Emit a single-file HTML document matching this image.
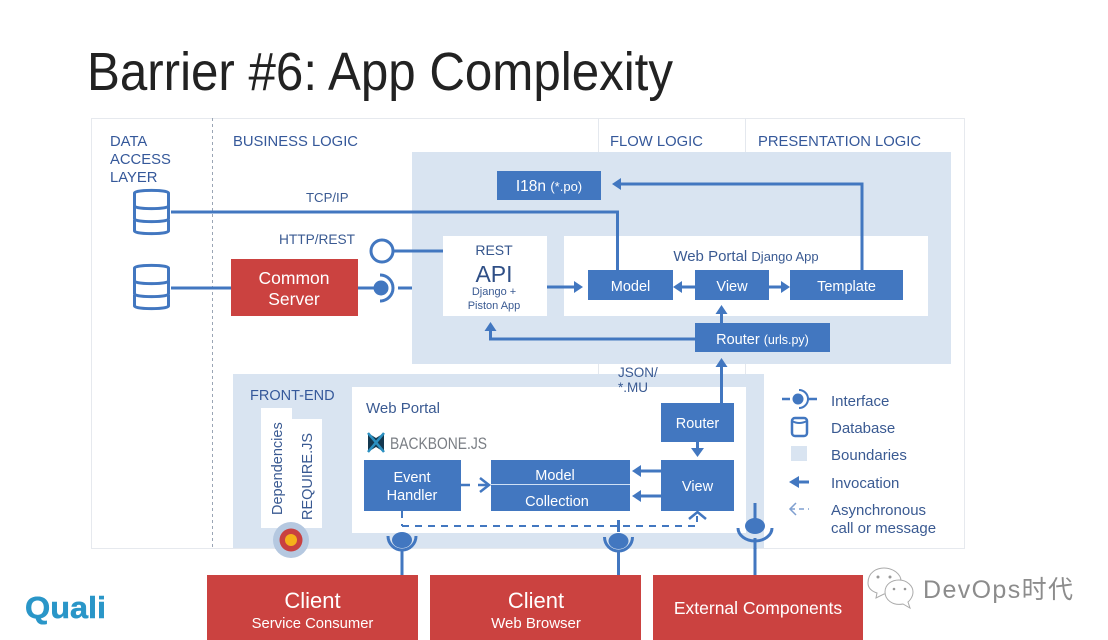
<!DOCTYPE html>
<html><head><meta charset="utf-8"><style>
html,body{margin:0;padding:0;background:#fff}
svg{display:block}
text{font-family:"Liberation Sans",sans-serif}
.h{font-size:14.800px;fill:#35589a}
.w{fill:#fff;text-anchor:middle}
.s{stroke:#4277c0;stroke-width:3;fill:none}
.b{fill:#4277c0}
.r{fill:#cb4240}
.p{fill:#d9e4f1}
</style></head><body>
<svg width="1108" height="640" viewBox="0 0 1108 640" xmlns="http://www.w3.org/2000/svg">
<defs>
<g id="db" fill="#fff" stroke="#4277c0" stroke-width="3">
<path d="M1.500 31v11c0 3.500 34 3.500 34 0v-11"/>
<path d="M1.500 17v13c0 3.500 34 3.500 34 0v-13"/>
<path d="M1.500 4v13c0 3.500 34 3.500 34 0v-13c0-3.500-34-3.500-34 0z"/>
</g>
</defs>
<text x="87" y="90" font-size="54" textLength="586" lengthAdjust="spacingAndGlyphs" fill="#222">Barrier #6: App Complexity</text>

<rect x="91.500" y="118.500" width="873" height="430" fill="none" stroke="#ccd3dc" stroke-dasharray="1 1"/>
<line x1="212.500" y1="118" x2="212.500" y2="548" stroke="#9aa5b5" stroke-dasharray="3 3"/>
<line x1="598.500" y1="118" x2="598.500" y2="152" stroke="#e4e8ee"/>
<line x1="745.500" y1="118" x2="745.500" y2="152" stroke="#e4e8ee"/>
<line x1="598.500" y1="363" x2="598.500" y2="374" stroke="#e4e8ee"/>
<line x1="745.500" y1="363" x2="745.500" y2="374" stroke="#e4e8ee"/>

<text class="h" x="110" y="146">DATA</text>
<text class="h" x="110" y="164">ACCESS</text>
<text class="h" x="110" y="182">LAYER</text>
<text class="h" x="233" y="146">BUSINESS LOGIC</text>
<text class="h" x="610" y="146">FLOW LOGIC</text>
<text class="h" x="758" y="146">PRESENTATION LOGIC</text>

<rect class="p" x="412" y="152" width="539" height="212"/>
<rect class="p" x="233" y="374" width="531" height="174"/>

<use href="#db" x="133" y="189"/>
<use href="#db" x="133" y="264"/>

<text x="306" y="202" font-size="13.200" fill="#3a5a92">TCP/IP</text>
<text x="279" y="244" font-size="13.700" fill="#3a5a92">HTTP/REST</text>

<path class="s" d="M171 212H617.500V270"/>
<path class="s" d="M171 288H231"/>
<circle cx="382" cy="251" r="11" fill="#fff" stroke="#4277c0" stroke-width="3"/>
<path class="s" d="M393 251H443"/>
<path class="s" d="M358 288H374M398 288H412"/>
<circle cx="381" cy="288" r="7.500" class="b"/>
<path class="s" d="M380 275A13 13 0 0 1 380 301"/>

<rect class="r" x="231" y="259" width="127" height="57"/>
<text class="w" x="294" y="284" font-size="17.500">Common</text>
<text class="w" x="294" y="305" font-size="17.500">Server</text>

<rect class="b" x="497" y="171" width="104" height="29"/>
<text class="w" x="549" y="191" font-size="15.500">I18n <tspan font-size="13">(*.po)</tspan></text>

<rect x="443" y="236" width="104" height="80" fill="#fff"/>
<text x="494" y="255" text-anchor="middle" font-size="14" fill="#35558c">REST</text>
<text x="494" y="282" text-anchor="middle" font-size="23" fill="#2f4f86">API</text>
<text x="494" y="295" text-anchor="middle" font-size="11" fill="#3a5a92">Django +</text>
<text x="494" y="309" text-anchor="middle" font-size="11" fill="#3a5a92">Piston App</text>

<rect x="564" y="236" width="364" height="80" fill="#fff"/>
<text x="746" y="261" text-anchor="middle" font-size="15" fill="#3a5a92">Web Portal <tspan font-size="13">Django App</tspan></text>
<path class="s" d="M617.500 212V270"/>
<rect class="b" x="588" y="270" width="85" height="30"/>
<text class="w" x="630.500" y="291" font-size="14.500">Model</text>
<rect class="b" x="695" y="270" width="74" height="30"/>
<text class="w" x="732" y="291" font-size="14.500">View</text>
<rect class="b" x="790" y="270" width="113" height="30"/>
<text class="w" x="846.500" y="291" font-size="14.500">Template</text>
<rect class="b" x="695" y="323" width="135" height="29"/>
<text class="w" x="762.500" y="344" font-size="14.500">Router <tspan font-size="12.500">(urls.py)</tspan></text>

<path class="s" d="M547 287H575"/><path class="b" d="M583 287L574 281V293Z"/>
<path class="s" d="M695 287H681"/><path class="b" d="M673 287L682 281V293Z"/>
<path class="s" d="M769 287H782"/><path class="b" d="M790 287L781 281V293Z"/>
<path class="s" d="M721.500 323V313"/><path class="b" d="M721.500 305L715.500 314H727.500Z"/>
<path class="s" d="M695 339H490.500V329"/><path class="b" d="M490.500 322L484.500 331H496.500Z"/>
<path class="s" d="M862 270V184H621"/><path class="b" d="M612 184L621 178V190Z"/>

<rect x="352" y="387" width="394" height="146" fill="#fff"/>
<path class="s" d="M721.500 403V366"/><path class="b" d="M721.500 358L715.500 367H727.500Z"/>
<text x="618" y="377" font-size="13.500" fill="#3a5a92">JSON/</text>
<text x="618" y="392" font-size="13.500" fill="#3a5a92">*.MU</text>

<text x="250" y="400" font-size="14.500" fill="#35589a">FRONT-END</text>
<text x="366" y="413" font-size="15" fill="#3a5a92">Web Portal</text>

<rect x="261" y="408" width="31" height="120" fill="#fff"/>
<rect x="292" y="419" width="30" height="109" fill="#fff"/>
<text transform="translate(282,515) rotate(-90)" font-size="14.500" fill="#3a5a92">Dependencies</text>
<text transform="translate(312,520) rotate(-90)" font-size="14.500" fill="#3a5a92">REQUIRE.JS</text>
<circle cx="291" cy="540" r="18" fill="#b5c8e0"/>
<circle cx="291" cy="540" r="11.500" fill="#c94040"/>
<circle cx="291" cy="540" r="6" fill="#f5b01a"/>

<path d="M368 433L376 438L384 433V452L376 447L368 452Z" fill="#14384f"/>
<path d="M368 433L384 452M384 433L368 452" stroke="#2a8fc0" stroke-width="2.500"/>
<text x="390" y="449" font-size="17" textLength="97" lengthAdjust="spacingAndGlyphs" fill="#7a7e84">BACKBONE.JS</text>

<rect class="b" x="364" y="460" width="97" height="51"/>
<text class="w" x="412" y="482" font-size="14.500">Event</text>
<text class="w" x="412" y="500" font-size="14.500">Handler</text>
<rect class="b" x="491" y="460" width="139" height="51"/>
<line x1="491" y1="484.500" x2="630" y2="484.500" stroke="#cfe0f5"/>
<text class="w" x="555" y="480" font-size="14.500">Model</text>
<text class="w" x="557" y="506" font-size="14.500">Collection</text>
<rect class="b" x="661" y="460" width="73" height="51"/>
<text class="w" x="697.500" y="491" font-size="14.500">View</text>
<rect class="b" x="661" y="403" width="73" height="39"/>
<text class="w" x="697.500" y="428" font-size="14.500">Router</text>

<path class="s" d="M697.500 442V448"/><path class="b" d="M697.500 457L691 448H704Z"/>
<path class="s" d="M661 471H641"/><path class="b" d="M632 471L641 465V477Z"/>
<path class="s" d="M661 496H641"/><path class="b" d="M632 496L641 490V502Z"/>
<path d="M461 485H470M478 485H488" fill="none" stroke="#4277c0" stroke-width="2.500"/>
<path d="M480 478L489 485L480 492" fill="none" stroke="#4277c0" stroke-width="2.500"/>
<path d="M402 511V526M402 526H697V516" fill="none" stroke="#4277c0" stroke-width="2" stroke-dasharray="7 6"/>
<path d="M689 519L697.500 512L706 519" fill="none" stroke="#4277c0" stroke-width="2.500"/>

<g class="s">
<path d="M402 575V550"/><path d="M388 536A14 14 0 0 0 416 536"/>
<path d="M618.500 575V550M618.500 520V532"/><path d="M604.500 537A14 14 0 0 0 632.500 537"/>
<path d="M755 575V538M755 503V520"/><path d="M738 528A17 13 0 0 0 772 528"/>
</g>
<ellipse cx="402" cy="540" rx="10" ry="8" class="b"/>
<ellipse cx="618.500" cy="541" rx="10" ry="8" class="b"/>
<ellipse cx="755" cy="526" rx="10" ry="8" class="b"/>

<rect class="r" x="207" y="575" width="211" height="65"/>
<rect class="r" x="430" y="575" width="211" height="65"/>
<rect class="r" x="653" y="575" width="210" height="65"/>
<text class="w" x="312.500" y="608" font-size="22">Client</text>
<text class="w" x="312.500" y="628" font-size="14.800">Service Consumer</text>
<text class="w" x="536" y="608" font-size="22">Client</text>
<text class="w" x="536" y="628" font-size="15">Web Browser</text>
<text class="w" x="758" y="614" font-size="17.500">External Components</text>

<path d="M782 399H790M808 399H817" stroke="#4277c0" stroke-width="2.500" fill="none"/>
<circle cx="798" cy="399" r="5.500" class="b"/>
<path d="M799 390A9 9 0 0 1 799 408" fill="none" stroke="#4277c0" stroke-width="2"/>
<rect x="792" y="418" width="15" height="18" rx="3" fill="#fff" stroke="#4277c0" stroke-width="2.500"/>
<path d="M792 421Q799 425 807 421" fill="none" stroke="#4277c0" stroke-width="2"/>
<rect class="p" x="791" y="446" width="16" height="15"/>
<path class="s" d="M797 482H809"/><path class="b" d="M789 482L799 476V488Z"/>
<path d="M796 503L790 509L796 515" fill="none" stroke="#7f9fd0" stroke-width="1.500"/>
<path d="M790 509H809" stroke="#7f9fd0" stroke-width="1.500" stroke-dasharray="5 4"/>
<g font-size="15" fill="#3a5a92">
<text x="831" y="406">Interface</text>
<text x="831" y="433">Database</text>
<text x="831" y="460">Boundaries</text>
<text x="831" y="488">Invocation</text>
<text x="831" y="515">Asynchronous</text>
<text x="831" y="533">call or message</text>
</g>

<text x="25" y="618" font-size="31" font-weight="bold" textLength="81" lengthAdjust="spacingAndGlyphs" fill="#2a96c8" stroke="#2a96c8" stroke-width="0.500">Quali</text>

<g fill="#fff" stroke="#aaaaaa" stroke-width="1">
<path d="M868 583C868 572 877 568 884 568C893 568 901 574 901 581C901 590 893 594 884 594L876 598L877 593C871 591 868 588 868 583Z"/>
<path d="M885 592C885 584 892 580 899 580C907 580 913 586 913 592C913 598 908 602 908 602L910 608L903 604C893 606 885 600 885 592Z"/>
</g>
<g fill="#999"><circle cx="878" cy="577" r="1.500"/><circle cx="890" cy="577" r="1.500"/><circle cx="894" cy="589" r="1.300"/><circle cx="905" cy="589" r="1.300"/></g>
<text x="923" y="598" font-size="25" textLength="150" lengthAdjust="spacing" fill="#8c8c8c" style="font-family:'Liberation Sans','Noto Sans CJK SC',sans-serif">DevOps时代</text>
</svg>
</body></html>
